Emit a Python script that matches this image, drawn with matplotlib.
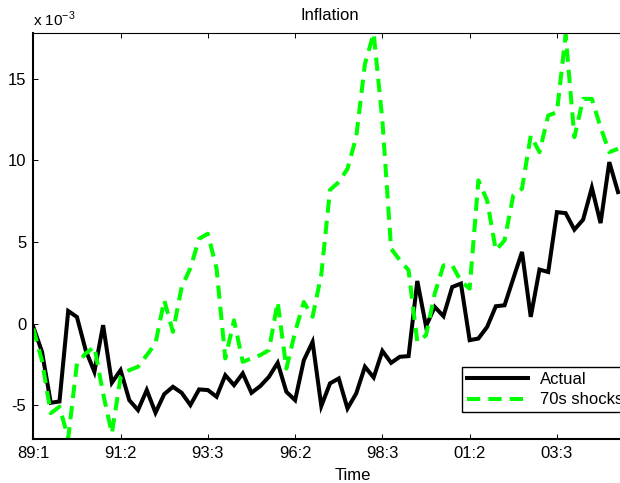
import numpy as np
import matplotlib
matplotlib.use("Agg")
import matplotlib.pyplot as plt

plt.rcParams['font.family'] = ['Liberation Sans', 'DejaVu Sans']
plt.rcParams['mathtext.fontset'] = 'custom'
plt.rcParams['mathtext.rm'] = 'Liberation Sans'
plt.rcParams['axes.unicode_minus'] = False

# quarterly inflation, units of 1e-3
actual = [-0.20, -1.74, -4.86, -4.78, 0.77, 0.40, -1.63, -2.96, -0.10, -3.63,
          -2.86, -4.70, -5.31, -4.08, -5.47, -4.33, -3.88, -4.25, -5.00, -4.04,
          -4.08, -4.49, -3.17, -3.78, -3.06, -4.25, -3.84, -3.27, -2.41, -4.19,
          -4.70, -2.25, -1.13, -5.06, -3.67, -3.37, -5.21, -4.29, -2.65, -3.31,
          -1.68, -2.41, -2.04, -2.00, 2.61, -0.17, 1.02, 0.45, 2.24, 2.45,
          -1.02, -0.92, -0.21, 1.06, 1.12, 2.76, 4.39, 0.41, 3.31, 3.16,
          6.83, 6.77, 5.76, 6.37, 8.33, 6.16, 9.90, 8.06]

shocks70 = [-0.31, -2.30, -5.50, -5.10, -7.04, -2.45, -1.84, -1.43, -4.30, -6.74,
            -3.30, -2.86, -2.65, -1.94, -1.23, 1.43, -0.51, 2.24, 3.40, 5.20,
            5.51, 3.37, -2.14, 0.20, -2.35, -2.14, -1.94, -1.63, 1.32, -2.76,
            -0.51, 1.32, 0.41, 3.00, 8.20, 8.67, 9.49, 11.43, 15.92, 17.80,
            12.45, 4.59, 3.88, 3.27, -1.12, -0.72, 1.84, 3.57, 3.57, 2.60,
            2.14, 8.78, 7.55, 4.49, 5.10, 7.86, 8.27, 11.53, 10.51, 12.76,
            12.96, 17.70, 11.43, 13.78, 13.78, 12.04, 10.51, 10.72]

tick_pos = [0, 10, 20, 30, 40, 50, 60]
tick_labels = ['89:1', '91:2', '93:3', '96:2', '98:3', '01:2', '03:3']
y_ticks = [-5, 0, 5, 10, 15]

W, H = 620, 483
fig = plt.figure(figsize=(W / 100, H / 100), dpi=100)
# the box runs a little past the right edge of the figure
ax = fig.add_axes([33.3 / W, 1 - 439.3 / H, (625 - 33.3) / W, (439.3 - 33.3) / H])

t = np.arange(len(actual))
ax.plot(t, actual, color='black', lw=2.9, label='Actual', solid_joinstyle='miter')
ax.plot(t, shocks70, color='#00ff00', lw=2.9, ls=(0, (3.3, 2.0)), label='70s shocks')

ax.set_xlim(0, 67.8)
ax.set_ylim(-7.1, 17.8)
ax.set_xticks(tick_pos)
ax.set_xticklabels(tick_labels)
ax.set_yticks(y_ticks)
ax.set_yticklabels([str(v) for v in y_ticks])
ax.tick_params(direction='in', length=3.6, width=0.7, labelsize=12,
               top=True, right=True, pad=5)

for side in ['left', 'bottom']:
    ax.spines[side].set_linewidth(1.5)
ax.spines['top'].set_linewidth(0.8)

fig.text(329.5 / W, 1 - 15 / H, 'Inflation', ha='center', va='center', fontsize=12)
fig.text(353 / W, 1 - 476 / H, 'Time', ha='center', va='center', fontsize=12)
fig.text(33.3 / W, 1 - 19 / H, r'x 10$^{-3}$', ha='left', va='center', fontsize=11)

leg = ax.legend(loc='upper left', bbox_to_anchor=(461.7 / W, 1 - 366.7 / H),
                bbox_transform=fig.transFigure, borderaxespad=0,
                fancybox=False, edgecolor='black', framealpha=1,
                fontsize=12, handlelength=3.67, handletextpad=0.7,
                labelspacing=0.34, borderpad=0.3)
leg.get_frame().set_linewidth(1.0)

fig.savefig('out.png', dpi=100)
